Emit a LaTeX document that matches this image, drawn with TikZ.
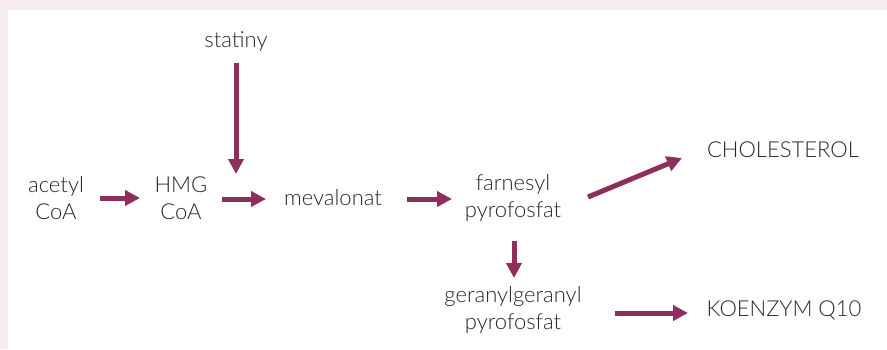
\documentclass[tikz,border=0pt]{standalone}
\usepackage{fontspec}
\setmainfont{Lato}[UprightFont={* Light}]
\usepackage{tikz}
\usetikzlibrary{arrows.meta}

\definecolor{plum}{RGB}{142,46,92}
\definecolor{rose}{RGB}{246,236,241}
\definecolor{ink}{RGB}{40,40,40}

\tikzset{
    step text/.style={text=ink, align=center, inner sep=0pt,
        font=\fontsize{22}{27}\selectfont},
    flow/.style={draw=plum, line width=5pt,
        -{Triangle[length=15pt,width=15pt]}},
}

\begin{document}
\begin{tikzpicture}[x=1pt, y=-1pt]

        % background and frame
        \fill [rose] (0,0) rectangle (887,349);
        \fill [white] (8,10) rectangle (887,349);
        \useasboundingbox (0,0) rectangle (887,349);

        \node [step text] (statiny) at (236,42) {statiny};
        \node [step text] (acetyl) at (56,198) {acetyl\\CoA};
        \node [step text] (hmg) at (181,198) {HMG\\CoA};
        \node [step text] (mevalonat) at (333,198) {mevalonat};
        \node [step text] (farnesyl) at (513,198) {farnesyl\\pyrofosfat};
        \node [step text] (cholesterol) at (783,150) {CHOLESTEROL};
        \node [step text] (geranyl) at (513,310) {geranylgeranyl\\pyrofosfat};
        \node [step text] (koenzym) at (784,310) {KOENZYM Q10};

        \coordinate (block) at (236,174);

        \draw [flow] ([xshift=44pt]acetyl.center) -- ([xshift=-41pt]hmg.center);
        \draw [flow] ([xshift=41pt,yshift=-1pt]hmg.center) -- ([xshift=-67pt,yshift=-1pt]mevalonat.center);
        \draw [flow] ([yshift=-21pt]statiny.center) -- (block);
        \draw [flow] ([xshift=74pt,yshift=-1pt]mevalonat.center) -- ([xshift=-61pt,yshift=-1pt]farnesyl.center);
        \draw [flow] ([xshift=75pt,yshift=1pt]farnesyl.center) -- ([xshift=-101pt,yshift=-8pt]cholesterol.center);
        \draw [flow] ([xshift=1pt,yshift=-43pt]farnesyl.center) -- ([xshift=1pt,yshift=32pt]geranyl.center);
        \draw [flow] ([xshift=102pt,yshift=-3pt]geranyl.center) -- ([xshift=-96pt,yshift=-3pt]koenzym.center);

\end{tikzpicture}
\end{document}
